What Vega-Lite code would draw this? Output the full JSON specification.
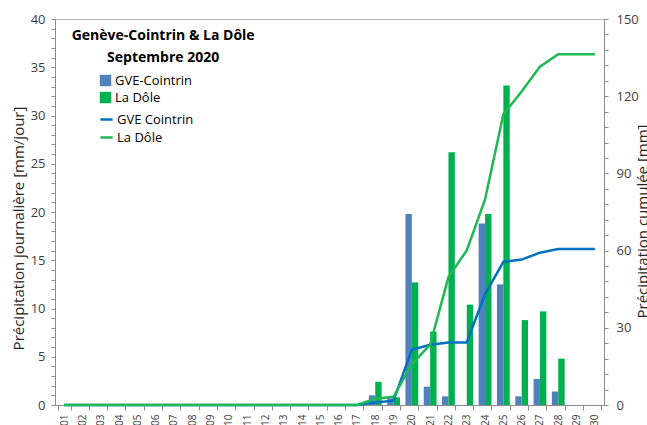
{
  "$schema": "https://vega.github.io/schema/vega-lite/v6.json",
  "width": 549,
  "height": 386,
  "autosize": {"type": "none"},
  "padding": {"left": 55, "top": 19, "right": 43, "bottom": 20},
  "background": "white",
  "config": {
    "font": "Open Sans",
    "view": {"stroke": "#b0b0b0", "strokeWidth": 1},
    "axis": {"domainColor": "#8c8c8c", "tickColor": "#8c8c8c", "labelColor": "#404040", "titleColor": "#262626", "grid": false, "titleFontWeight": "normal"}
  },
  "title": {
    "text": ["Genève-Cointrin & La Dôle", "Septembre 2020"],
    "anchor": "start",
    "align": "center",
    "dx": 152,
    "dy": 56,
    "fontSize": 14,
    "fontWeight": "bold",
    "color": "#000000",
    "lineHeight": 22
  },
  "datasets": {
    "daily": [
      {"day": "01", "serie": "GVE-Cointrin", "mm": 0}, {"day": "01", "serie": "La Dôle", "mm": 0},
      {"day": "02", "serie": "GVE-Cointrin", "mm": 0}, {"day": "02", "serie": "La Dôle", "mm": 0},
      {"day": "03", "serie": "GVE-Cointrin", "mm": 0}, {"day": "03", "serie": "La Dôle", "mm": 0},
      {"day": "04", "serie": "GVE-Cointrin", "mm": 0}, {"day": "04", "serie": "La Dôle", "mm": 0},
      {"day": "05", "serie": "GVE-Cointrin", "mm": 0}, {"day": "05", "serie": "La Dôle", "mm": 0},
      {"day": "06", "serie": "GVE-Cointrin", "mm": 0}, {"day": "06", "serie": "La Dôle", "mm": 0},
      {"day": "07", "serie": "GVE-Cointrin", "mm": 0}, {"day": "07", "serie": "La Dôle", "mm": 0},
      {"day": "08", "serie": "GVE-Cointrin", "mm": 0}, {"day": "08", "serie": "La Dôle", "mm": 0},
      {"day": "09", "serie": "GVE-Cointrin", "mm": 0}, {"day": "09", "serie": "La Dôle", "mm": 0},
      {"day": "10", "serie": "GVE-Cointrin", "mm": 0}, {"day": "10", "serie": "La Dôle", "mm": 0},
      {"day": "11", "serie": "GVE-Cointrin", "mm": 0}, {"day": "11", "serie": "La Dôle", "mm": 0},
      {"day": "12", "serie": "GVE-Cointrin", "mm": 0}, {"day": "12", "serie": "La Dôle", "mm": 0},
      {"day": "13", "serie": "GVE-Cointrin", "mm": 0}, {"day": "13", "serie": "La Dôle", "mm": 0},
      {"day": "14", "serie": "GVE-Cointrin", "mm": 0}, {"day": "14", "serie": "La Dôle", "mm": 0},
      {"day": "15", "serie": "GVE-Cointrin", "mm": 0}, {"day": "15", "serie": "La Dôle", "mm": 0},
      {"day": "16", "serie": "GVE-Cointrin", "mm": 0}, {"day": "16", "serie": "La Dôle", "mm": 0},
      {"day": "17", "serie": "GVE-Cointrin", "mm": 0}, {"day": "17", "serie": "La Dôle", "mm": 0},
      {"day": "18", "serie": "GVE-Cointrin", "mm": 1.0}, {"day": "18", "serie": "La Dôle", "mm": 2.4},
      {"day": "19", "serie": "GVE-Cointrin", "mm": 0.7}, {"day": "19", "serie": "La Dôle", "mm": 0.8},
      {"day": "20", "serie": "GVE-Cointrin", "mm": 19.8}, {"day": "20", "serie": "La Dôle", "mm": 12.7},
      {"day": "21", "serie": "GVE-Cointrin", "mm": 1.9}, {"day": "21", "serie": "La Dôle", "mm": 7.6},
      {"day": "22", "serie": "GVE-Cointrin", "mm": 0.9}, {"day": "22", "serie": "La Dôle", "mm": 26.2},
      {"day": "23", "serie": "GVE-Cointrin", "mm": 0}, {"day": "23", "serie": "La Dôle", "mm": 10.4},
      {"day": "24", "serie": "GVE-Cointrin", "mm": 18.8}, {"day": "24", "serie": "La Dôle", "mm": 19.8},
      {"day": "25", "serie": "GVE-Cointrin", "mm": 12.5}, {"day": "25", "serie": "La Dôle", "mm": 33.1},
      {"day": "26", "serie": "GVE-Cointrin", "mm": 0.9}, {"day": "26", "serie": "La Dôle", "mm": 8.8},
      {"day": "27", "serie": "GVE-Cointrin", "mm": 2.7}, {"day": "27", "serie": "La Dôle", "mm": 9.7},
      {"day": "28", "serie": "GVE-Cointrin", "mm": 1.4}, {"day": "28", "serie": "La Dôle", "mm": 4.8},
      {"day": "29", "serie": "GVE-Cointrin", "mm": 0}, {"day": "29", "serie": "La Dôle", "mm": 0},
      {"day": "30", "serie": "GVE-Cointrin", "mm": 0}, {"day": "30", "serie": "La Dôle", "mm": 0}
    ],
    "cumul": [
      {"day": "01", "courbe": "GVE Cointrin", "cum": 0}, {"day": "01", "courbe": "La Dôle", "cum": 0},
      {"day": "02", "courbe": "GVE Cointrin", "cum": 0}, {"day": "02", "courbe": "La Dôle", "cum": 0},
      {"day": "03", "courbe": "GVE Cointrin", "cum": 0}, {"day": "03", "courbe": "La Dôle", "cum": 0},
      {"day": "04", "courbe": "GVE Cointrin", "cum": 0}, {"day": "04", "courbe": "La Dôle", "cum": 0},
      {"day": "05", "courbe": "GVE Cointrin", "cum": 0}, {"day": "05", "courbe": "La Dôle", "cum": 0},
      {"day": "06", "courbe": "GVE Cointrin", "cum": 0}, {"day": "06", "courbe": "La Dôle", "cum": 0},
      {"day": "07", "courbe": "GVE Cointrin", "cum": 0}, {"day": "07", "courbe": "La Dôle", "cum": 0},
      {"day": "08", "courbe": "GVE Cointrin", "cum": 0}, {"day": "08", "courbe": "La Dôle", "cum": 0},
      {"day": "09", "courbe": "GVE Cointrin", "cum": 0}, {"day": "09", "courbe": "La Dôle", "cum": 0},
      {"day": "10", "courbe": "GVE Cointrin", "cum": 0}, {"day": "10", "courbe": "La Dôle", "cum": 0},
      {"day": "11", "courbe": "GVE Cointrin", "cum": 0}, {"day": "11", "courbe": "La Dôle", "cum": 0},
      {"day": "12", "courbe": "GVE Cointrin", "cum": 0}, {"day": "12", "courbe": "La Dôle", "cum": 0},
      {"day": "13", "courbe": "GVE Cointrin", "cum": 0}, {"day": "13", "courbe": "La Dôle", "cum": 0},
      {"day": "14", "courbe": "GVE Cointrin", "cum": 0}, {"day": "14", "courbe": "La Dôle", "cum": 0},
      {"day": "15", "courbe": "GVE Cointrin", "cum": 0}, {"day": "15", "courbe": "La Dôle", "cum": 0},
      {"day": "16", "courbe": "GVE Cointrin", "cum": 0}, {"day": "16", "courbe": "La Dôle", "cum": 0},
      {"day": "17", "courbe": "GVE Cointrin", "cum": 0}, {"day": "17", "courbe": "La Dôle", "cum": 0},
      {"day": "18", "courbe": "GVE Cointrin", "cum": 1.0}, {"day": "18", "courbe": "La Dôle", "cum": 2.4},
      {"day": "19", "courbe": "GVE Cointrin", "cum": 1.7}, {"day": "19", "courbe": "La Dôle", "cum": 3.2},
      {"day": "20", "courbe": "GVE Cointrin", "cum": 21.5}, {"day": "20", "courbe": "La Dôle", "cum": 15.9},
      {"day": "21", "courbe": "GVE Cointrin", "cum": 23.4}, {"day": "21", "courbe": "La Dôle", "cum": 23.5},
      {"day": "22", "courbe": "GVE Cointrin", "cum": 24.3}, {"day": "22", "courbe": "La Dôle", "cum": 49.7},
      {"day": "23", "courbe": "GVE Cointrin", "cum": 24.3}, {"day": "23", "courbe": "La Dôle", "cum": 60.1},
      {"day": "24", "courbe": "GVE Cointrin", "cum": 43.1}, {"day": "24", "courbe": "La Dôle", "cum": 79.9},
      {"day": "25", "courbe": "GVE Cointrin", "cum": 55.6}, {"day": "25", "courbe": "La Dôle", "cum": 113.0},
      {"day": "26", "courbe": "GVE Cointrin", "cum": 56.5}, {"day": "26", "courbe": "La Dôle", "cum": 121.8},
      {"day": "27", "courbe": "GVE Cointrin", "cum": 59.2}, {"day": "27", "courbe": "La Dôle", "cum": 131.5},
      {"day": "28", "courbe": "GVE Cointrin", "cum": 60.6}, {"day": "28", "courbe": "La Dôle", "cum": 136.3},
      {"day": "29", "courbe": "GVE Cointrin", "cum": 60.6}, {"day": "29", "courbe": "La Dôle", "cum": 136.3},
      {"day": "30", "courbe": "GVE Cointrin", "cum": 60.6}, {"day": "30", "courbe": "La Dôle", "cum": 136.3}
    ]
  },
  "layer": [
    {
      "data": {"name": "daily"},
      "mark": {"type": "bar"},
      "encoding": {
        "x": {
          "field": "day",
          "type": "ordinal",
          "scale": {"paddingInner": 0.3, "paddingOuter": 0.15},
          "axis": {"title": null, "labelAngle": -90, "labelFontSize": 10, "labelPadding": 4, "tickBand": "extent", "tickSize": 5, "labelBaseline": "middle", "labelAlign": "right"}
        },
        "xOffset": {"field": "serie", "type": "nominal", "sort": ["GVE-Cointrin", "La Dôle"], "scale": {"paddingInner": 0, "paddingOuter": 0}},
        "y": {
          "field": "mm",
          "type": "quantitative",
          "scale": {"domain": [0, 40], "nice": false},
          "axis": {
            "title": "Précipitation journalière [mm/jour]",
            "titleFontSize": 15,
            "titlePadding": 4,
            "titleY": 209,
            "labelFontSize": 13,
            "labelPadding": 6,
            "values": [0,1,2,3,4,5,6,7,8,9,10,11,12,13,14,15,16,17,18,19,20,21,22,23,24,25,26,27,28,29,30,31,32,33,34,35,36,37,38,39,40],
            "labelExpr": "datum.value % 5 === 0 ? datum.label : ''",
            "tickSize": 4
          }
        },
        "color": {
          "field": "serie",
          "type": "nominal",
          "scale": {"domain": ["GVE-Cointrin", "La Dôle"], "range": ["#4F81BD", "#00B050"]},
          "legend": {"title": null, "orient": "none", "legendX": 44, "legendY": 55, "symbolType": "square", "symbolSize": 130, "labelFontSize": 13, "labelColor": "#000000", "rowPadding": 3, "labelOffset": 3}
        }
      }
    },
    {
      "data": {"name": "cumul"},
      "mark": {"type": "line", "strokeWidth": 2.5},
      "encoding": {
        "x": {"field": "day", "type": "ordinal"},
        "y": {
          "field": "cum",
          "type": "quantitative",
          "scale": {"domain": [0, 150], "nice": false},
          "axis": {
            "orient": "right",
            "title": "Précipitation cumulée [mm]",
            "titleFontSize": 15,
            "titlePadding": 12,
            "titleAngle": -90,
            "titleY": 202,
            "labelFontSize": 13,
            "labelPadding": 8,
            "values": [0,6,12,18,24,30,36,42,48,54,60,66,72,78,84,90,96,102,108,114,120,126,132,138,144,150],
            "labelExpr": "datum.value % 30 === 0 ? datum.label : ''",
            "tickSize": 4
          }
        },
        "stroke": {
          "field": "courbe",
          "type": "nominal",
          "scale": {"domain": ["GVE Cointrin", "La Dôle"], "range": ["#0070C0", "#1DB954"]},
          "legend": {"title": null, "orient": "none", "legendX": 44, "legendY": 93, "symbolType": "stroke", "symbolStrokeWidth": 2.5, "symbolSize": 150, "labelFontSize": 13, "labelColor": "#000000", "rowPadding": 3, "labelOffset": 3}
        }
      }
    }
  ],
  "resolve": {"scale": {"y": "independent", "color": "independent"}}
}
